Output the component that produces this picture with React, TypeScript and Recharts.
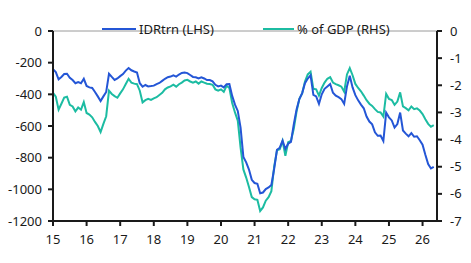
import React from "react";
import { LineChart, Line, XAxis, YAxis, Legend, ReferenceLine } from "recharts";

// Monthly observations starting January 2015
const START_YEAR = 2015;

// Current account balance, IDR trillion (left axis)
const idrTrn = [
  -242, -260, -305, -290, -272, -270, -295, -310, -330, -322, -330, -302,
  -347, -356, -360, -385, -413, -442, -413, -385, -270, -290, -309, -300,
  -285, -272, -250, -234, -248, -256, -262, -330, -352, -341, -350, -348,
  -345, -335, -328, -315, -302, -292, -288, -280, -288, -275, -265, -262,
  -266, -278, -290, -292, -300, -292, -300, -310, -310, -318, -340, -350,
  -345, -356, -336, -335, -410, -465, -505, -610, -795, -830, -875, -940,
  -960, -965, -1025, -1020, -998, -988, -972, -870, -750, -737, -692, -745,
  -712, -700, -590, -495, -430, -392, -330, -300, -280, -404, -413, -460,
  -400, -365, -350, -335, -390, -408, -418, -430, -460, -350, -282, -356,
  -405, -438, -465, -488, -540, -572, -590, -640, -662, -660, -695, -515,
  -545, -565, -610, -588, -515, -628, -648, -665, -645, -668, -665, -690,
  -718, -782, -840, -868, -858,
];

// Same balance as a share of GDP, % (right axis)
const pctGdp = [
  -2.28, -2.42, -2.9, -2.68, -2.45, -2.42, -2.72, -2.78, -2.96, -2.82, -2.9, -2.62,
  -3.02, -3.08, -3.18, -3.35, -3.5, -3.72, -3.42, -3.14, -2.2, -2.32, -2.4, -2.46,
  -2.3, -2.15, -1.95, -1.76, -1.9, -1.94, -1.96, -2.2, -2.63, -2.55, -2.5, -2.54,
  -2.48, -2.44, -2.36, -2.28, -2.15, -2.08, -2.04, -1.98, -2.05, -1.96, -1.9, -1.82,
  -1.8, -1.86, -1.9, -1.86, -1.94, -1.86, -1.9, -1.94, -1.95, -1.98, -2.15, -2.2,
  -2.15, -2.24, -2.02, -2.1, -2.65, -3.0, -3.3, -4.3, -5.1, -5.4, -5.75, -6.12,
  -6.2, -6.22, -6.63, -6.5, -6.25, -6.12, -5.9, -5.0, -4.4, -4.36, -4.05, -4.6,
  -4.1, -4.05, -3.6, -2.97, -2.5, -2.3, -1.86, -1.6, -1.5, -2.13, -2.15, -2.38,
  -2.1, -1.9, -1.76, -1.7, -1.9, -1.96, -2.0, -2.05, -2.24, -1.6, -1.37, -1.63,
  -1.95, -2.1, -2.22, -2.38, -2.55, -2.68, -2.76, -2.88, -2.98, -3.0, -3.15, -2.32,
  -2.5, -2.54, -2.72, -2.6, -2.26, -2.78, -2.84, -2.92, -2.78, -2.88, -2.85, -2.93,
  -3.06, -3.25, -3.42, -3.53, -3.47,
];

const yearTicks = [2015, 2016, 2017, 2018, 2019, 2020, 2021, 2022, 2023, 2024, 2025, 2026];
const leftTicks = [0, -200, -400, -600, -800, -1000, -1200];
const rightTicks = [0, -1, -2, -3, -4, -5, -6, -7];

const seriesNames = { idr: "IDRtrn (LHS)", gdp: "% of GDP (RHS)" };

const BLUE = "#2456d6";
const TEAL = "#1cbca2";
const INK = "#1a1a1a";
const FONT = "'Noto Sans', 'Open Sans', sans-serif";

const rows = idrTrn.map((v, i) => ({
  t: START_YEAR + i / 12,
  idr: v,
  gdp: pctGdp[i],
}));

const legendItems = [
  { key: "idr", color: BLUE, lineLeft: 102, lineWidth: 34 },
  { key: "gdp", color: TEAL, lineLeft: 263, lineWidth: 31 },
];

function ChartLegend() {
  return (
    <div style={{ position: "relative", height: 20, width: 471 }}>
      {legendItems.map((it) => (
        <div key={it.key}>
          <div
            style={{
              position: "absolute",
              left: it.lineLeft,
              top: 9,
              width: it.lineWidth,
              height: 2,
              background: it.color,
            }}
          />
          <div
            style={{
              position: "absolute",
              left: it.lineLeft + it.lineWidth + 3,
              top: 0,
              fontFamily: FONT,
              fontSize: 13,
              lineHeight: "20px",
              color: INK,
              whiteSpace: "nowrap",
            }}
          >
            {seriesNames[it.key as "idr" | "gdp"]}
          </div>
        </div>
      ))}
    </div>
  );
}

export default function App() {
  const tickStyle = { fontFamily: FONT, fontSize: 13, fill: INK };
  return (
    <div style={{ position: "absolute", left: 0, top: 0, width: 471, height: 263, background: "#fff" }}>
      <LineChart
        width={471}
        height={263}
        data={rows}
        margin={{ top: 11, right: 0, left: 0, bottom: 0 }}
      >
        <XAxis
          dataKey="t"
          type="number"
          domain={[2015, 2026.43]}
          ticks={yearTicks}
          tickFormatter={(v: number) => String(v - 2000)}
          height={42}
          tickSize={5}
          tickMargin={9}
          tick={tickStyle}
          axisLine={{ stroke: INK, strokeWidth: 2 }}
          tickLine={{ stroke: INK, strokeWidth: 2 }}
          interval={0}
        />
        <YAxis
          yAxisId="left"
          orientation="left"
          domain={[-1200, 0]}
          ticks={leftTicks}
          width={53}
          tickSize={5}
          tickMargin={6}
          tick={tickStyle}
          axisLine={{ stroke: INK, strokeWidth: 2 }}
          tickLine={{ stroke: INK, strokeWidth: 2 }}
          interval={0}
        />
        <YAxis
          yAxisId="right"
          orientation="right"
          domain={[-7, 0]}
          ticks={rightTicks}
          width={34}
          tickSize={5}
          tickMargin={8}
          tick={{ ...tickStyle, textAnchor: "start" }}
          axisLine={{ stroke: INK, strokeWidth: 2 }}
          tickLine={{ stroke: INK, strokeWidth: 2 }}
          interval={0}
        />
        <ReferenceLine yAxisId="right" y={0} stroke="#9a9a9a" strokeWidth={1} />
        <Legend
          verticalAlign="top"
          align="left"
          content={() => <ChartLegend />}
          wrapperStyle={{ top: 19, left: 0, width: 471 }}
        />
        <Line
          yAxisId="right"
          dataKey="gdp"
          name={seriesNames.gdp}
          stroke={TEAL}
          strokeWidth={2}
          dot={false}
          isAnimationActive={false}
          type="linear"
        />
        <Line
          yAxisId="left"
          dataKey="idr"
          name={seriesNames.idr}
          stroke={BLUE}
          strokeWidth={2}
          dot={false}
          isAnimationActive={false}
          type="linear"
        />
      </LineChart>
    </div>
  );
}
